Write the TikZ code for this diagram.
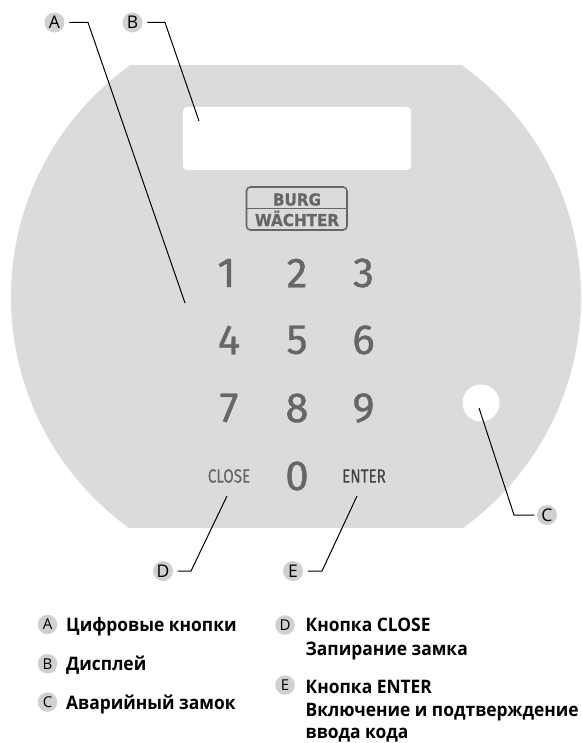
\documentclass[tikz,border=0pt]{standalone}
\usepackage{fontspec}
\setmainfont{Open Sans}
\newfontfamily\digitfont[FakeBold=0.9]{Fira Sans}
\newfontfamily\wordfont[FakeBold=0.3]{Fira Sans}
\newfontfamily\logofont[FakeBold=0.8]{DejaVu Sans}
\definecolor{panelgray}{HTML}{DBDBDB}
\definecolor{markgray}{HTML}{D0D0D0}
\definecolor{keygray}{HTML}{666666}
\definecolor{entergray}{HTML}{444444}
\tikzset{
  callout/.style={circle,fill=markgray,minimum size=20pt,inner sep=0pt,outer sep=4.8pt,font=\fontsize{17.5}{17.5}\selectfont},
  legendmark/.style={circle,fill=markgray,minimum size=19.5pt,inner sep=0pt,font=\fontsize{15}{15}\selectfont},
  legendtext/.style={anchor=base west,inner sep=0pt,xscale=0.935,font=\fontsize{18.6}{18.6}\selectfont\bfseries},
  digitkey/.style={text=keygray,inner sep=0pt,font=\digitfont\fontsize{42}{42}\selectfont},
  wordkey/.style={inner sep=0pt,font=\wordfont\fontsize{19}{19}\selectfont,xscale=0.8},
  leader/.style={draw=black,line width=1pt},
  logotext/.style={text=keygray,inner sep=0pt,font=\logofont\bfseries\fontsize{16.5}{16.5}\selectfont}
}
\begin{document}
\begin{tikzpicture}[x=1pt,y=-1pt]
\useasboundingbox (0,0) rectangle (581,743);
\begin{scope}
  \clip (0,66) rectangle (581,527.7);
  \fill[panelgray] (296,297) circle[radius=285];
\end{scope}
\fill[white,rounded corners=4pt] (183,107) rectangle (411,170);
\fill[white] (481,403) circle[radius=18.5];
% logo
\draw[keygray,line width=1.6pt,rounded corners=4pt] (246.5,187) rectangle (347,230);
\draw[keygray,line width=1pt] (246.5,209) -- (347,209);
\node[logotext,xscale=0.92] (burg) at (297,199.5) {BURG};
\node[logotext,xscale=0.92] (waechter) at (297,218.5) {WÄCHTER};
% keys
\node[digitkey] (k1) at (226.5,273) {1};
\node[digitkey] (k2) at (297,273) {2};
\node[digitkey] (k3) at (363.5,273) {3};
\node[digitkey] (k4) at (229,340) {4};
\node[digitkey] (k5) at (297,340) {5};
\node[digitkey] (k6) at (363.5,340) {6};
\node[digitkey] (k7) at (229,408) {7};
\node[digitkey] (k8) at (297,408) {8};
\node[digitkey] (k9) at (363.5,408) {9};
\node[digitkey] (k0) at (297,476) {0};
\node[wordkey,text=keygray] (close) at (229,476) {CLOSE};
\node[wordkey,text=entergray] (enter) at (364,476) {ENTER};
% callouts
\node[callout] (ca) at (54.5,22.5) {A};
\node[callout] (cb) at (132.5,22.5) {B};
\node[callout,outer sep=2.7pt] (cc) at (547,515) {C};
\node[callout] (cd) at (163,571) {D};
\node[callout] (ce) at (293,571) {E};
\coordinate (ta) at (185,303);
\coordinate (tb) at (199,121);
\coordinate (tc) at (479,408);
\coordinate (td) at (227,496);
\coordinate (te) at (357,496);
\draw[leader] (ca.east) -- (88,22.5) -- (ta);
\draw[leader] (cb.east) -- (165,22.5) -- (tb);
\draw[leader] (cc.west) -- (514,515) -- (tc);
\draw[leader] (cd.east) -- (191,571) -- (td);
\draw[leader] (ce.east) -- (322,571) -- (te);
% legend
\node[legendmark] (la) at (47.5,624.5) {A};
\node[legendmark] (lb) at (47.5,663.7) {B};
\node[legendmark] (lc) at (47.5,702) {C};
\node[legendmark] (ld) at (285,625) {D};
\node[legendmark] (le) at (285,685) {E};
\node[legendtext] (ta1) at (66,631) {Цифровые кнопки};
\node[legendtext] (tb1) at (66,670) {Дисплей};
\node[legendtext] (tc1) at (66,709) {Аварийный замок};
\node[legendtext] (td1) at (305.5,631) {Кнопка CLOSE};
\node[legendtext] (td2) at (305.5,655) {Запирание замка};
\node[legendtext] (te1) at (305.5,693) {Кнопка ENTER};
\node[legendtext] (te2) at (305.5,716.5) {Включение и подтверждение};
\node[legendtext] (te3) at (305.5,738.5) {ввода кода};
\end{tikzpicture}
\end{document}
